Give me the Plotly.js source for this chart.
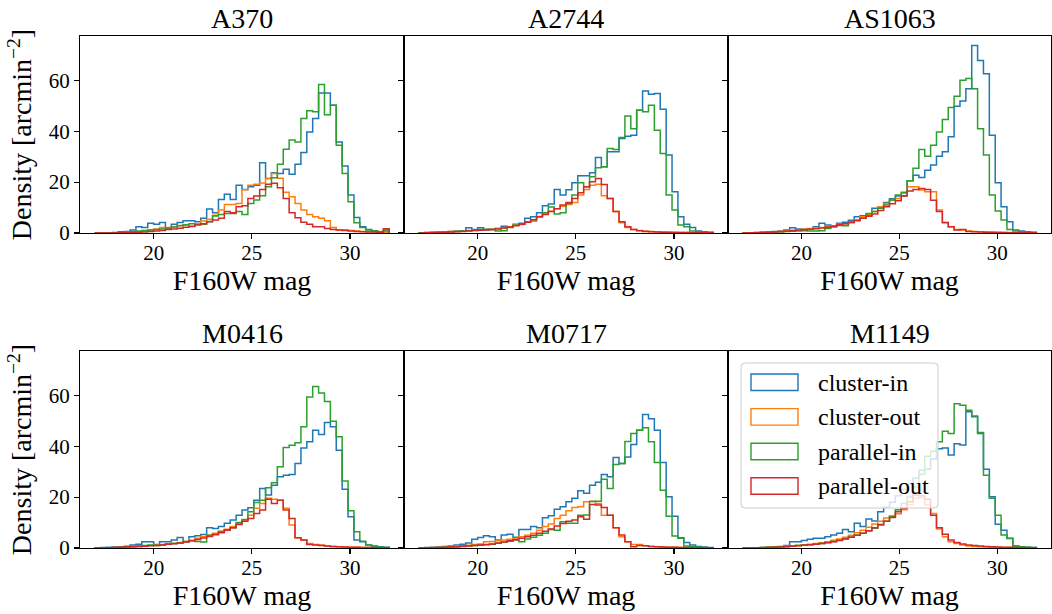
<!DOCTYPE html>
<html>
<head>
<meta charset="utf-8">
<script src="https://cdn.plot.ly/plotly-3.0.1.min.js"></script>
<style>
html,body{margin:0;padding:0;background:#ffffff;}
#chart{width:1052px;height:614px;}
</style>
</head>
<body>
<div id="chart"></div>
<script>
// ---------------- DATA ----------------
const binStart = 17;      // first bin edge (F160W mag)
const binWidth = 0.3;     // bin width (mag)
const panelTitles = ["A370", "A2744", "AS1063", "M0416", "M0717", "M1149"];
const seriesNames = ["cluster-in", "cluster-out", "parallel-in", "parallel-out"];
const xTickVals = [20, 25, 30];
const yTickVals = [0, 20, 40, 60];

// A370
const a370_clusterIn = [0,0,0.1,0.2,0.5,0.6,1.2,2.5,2.2,3.8, 3.4,4.1,2.1,3.4,4.1,4.8,4.8,4.4,5.8,9.4, 8.0,13.2,15.2,13.2,18.8,17.1,18.2,18.8,27.6,21.4, 23.7,23.4,25,23.1,27,31.6,39.7,45,55,55, 50.2,35.8,26.3,14.9,6.1,2.5,1.4,0.9,0.5,1.2];
const a370_clusterOut = [0,0,0,0,0.1,0.2,0.3,0.5,0.8,1.2, 1.6,2.2,2.2,2.5,2.9,3.1,2.7,3.4,4.7,5.4, 7,9,11.2,11.2,11.6,17,18.8,19.2,19.6,21.4, 23.4,21.5,16,14.2,11.6,9,7.3,6.4,5.8,4.8, 2.2,1.2,1.3,1.0,0.8,0.6,0.5,0.4,0.6,0.3];
const a370_parallelIn = [0,0,0,0.1,0.2,0.4,0.6,0.8,1.0,1.2, 1.4,1.6,2.0,2.4,2.8,3.2,3.6,3.4,3.4,4.5, 6.7,7.3,7.7,7.7,8.4,7.3,11.6,13,14.6,18.2, 21.7,27,32.9,36.5,35.8,45,48,47.6,58.3,46.5, 50.2,34.5,23.4,12.3,4,2.2,1.2,0.8,0.5,0.8];
const a370_parallelOut = [0,0,0,0,0.1,0.1,0.2,0.3,0.4,0.6, 0.8,1.0,1.4,1.6,1.9,2.3,2.6,3.1,3.6,4.4, 5.1,5.8,8.4,8.0,10.3,10.7,13.6,14.5,17.1,19.2, 19.5,17.8,13.6,8,6,4.2,3.4,2.5,2.5,1.8, 1.4,1.2,1.0,0.8,0.6,0.5,0.4,0.4,0.3,1.7];

// A2744
const a2744_clusterIn = [0.1,0.2,0.3,0.4,0.5,0.6,0.8,0.9,2.1,1.4, 2.1,1.4,1.4,1.8,2.7,2.5,3.1,3.8,5.8,6.4, 8,10.7,11.4,17.1,14.9,17, 19.7,22.5,22.5,23.7,29.7,26,31.9,31.9,37.1,38, 38.4,48.2,55.8,54.5,54.8,48.6,30.6,16.2,6.4,3.4, 2.2,0.8,0.5,0.3];
const a2744_clusterOut = [0.1,0.2,0.3,0.4,0.5,0.6,0.7,0.8,0.9,1.0, 1.2,1.3,1.5,1.8,2.0,2.5,3.5,3.3,4.4,4.6, 6.5,7.5,8.5,9.5,10.5,11.2, 12,14.9,17.1,18.8,19.2,14.6,13.6,8.4,4,2.2, 1.4,1.0,0.8,0.6,0.5,0.4,0.3,0.3,0.2,0.2, 0.1,0.1,0.1,0.1];
const a2744_parallelIn = [0.1,0.1,0.2,0.3,0.4,0.5,0.6,0.8,1.0,1.2, 1.4,1.5,1.4,0.8,0.9,2.2,3.0,3.5,4.4,5.2, 6.4,8.0,10.2,7.5,8.0,11.6, 14.9,19.7,18.2,22.1,25.6,26,33.2,32.8,37.5,46, 41,48.2,47.6,50.2,40.4,31.2,14.9,9,3.1,2.5, 0.8,0.5,0.3,0.2];
const a2744_parallelOut = [0,0.1,0.1,0.2,0.3,0.4,0.5,0.6,0.8,1.0, 1.1,1.2,1.4,1.6,2.0,2.4,2.8,3.4,4.2,5.2, 6.4,7.3,8.4,9.5,11,12, 13.6,15.8,18.2,20.1,21.4,19.1,13.6,8.4,4.4,2.5, 1.4,0.9,0.6,0.5,0.4,0.3,0.3,0.2,0.2,0.2, 0.1,0.1,0.1,0.1];

// AS1063
const as1063_clusterIn = [0.1,0.1,0.2,0.3,0.4,0.6,0.8,1.2,2.1,1.6, 1.5,1.6,2.5,3.8,3.1,2.5,3.8,4.2,5.0,6.4, 6.8,7.0,9.7,9.9,12,13.5, 14.5,14.6,20.5,22.7,21.8,24.7,26.7,30.2,31.9,37.8, 49.8,51.9,56.7,73.7,67.8,62.6,38.4,19.7,10.3,4.4, 1.2,0.8,0.5,0.3];
const as1063_clusterOut = [0.1,0.1,0.2,0.3,0.4,0.5,0.7,0.9,1.1,1.3, 1.5,1.8,2.0,2.2,2.5,2.8,3.4,3.6,4.4,5.1, 6.4,7.3,8.4,10.3,11.6,13, 13.6,15.6,18.2,18.2,16.9,16.2,16.2,9,4.2,2.5, 1.4,1.2,0.8,0.6,0.5,0.4,0.3,0.3,0.2,0.2, 0.1,0.1,0.1,0.1];
const as1063_parallelIn = [0,0.1,0.1,0.2,0.3,0.4,0.5,0.6,0.7,0.8, 0.9,0.8,0.8,0.9,1.8,2.5,2.9,2.8,4.0,5.0, 5.8,7.7,8.4,9.7,11,13, 14.9,16,20.5,25.4,32.8,30.2,34.5,39.7,44.6,49.3, 53.7,60,60.7,56.7,41,30.6,14.9,8.6,5.1,1.4, 0.8,0.5,0.3,0.2];
const as1063_parallelOut = [0,0.1,0.1,0.2,0.3,0.4,0.5,0.7,0.9,1.1, 1.3,1.5,1.7,2.0,2.3,2.7,3.2,3.6,4.2,4.8, 5.8,6.6,7.5,8.8,10.3,11.5, 12.7,14.5,16.5,17.1,17.5,17.1,12.9,8.4,4,2.5, 1.2,1.4,0.6,0.5,0.4,0.3,0.3,0.2,0.2,0.1, 0.1,0.1,0.1,0.1];

// M0416
const m0416_clusterIn = [0.1,0.2,0.3,0.4,0.5,0.7,1.2,1.5,2.5,2.5, 1.4,2.5,2.5,3.1,4.1,2.5,4.4,4.8,5.3,8.0, 7.7,8.4,9.7,11,12.9,14.9, 15.8,18.8,23.4,20.8,24.7,28,28.6,28.9,33.2,39.3, 41.7,46.3,44.6,49.3,47.6,38.4,23.1,12.3,3.1,2.5, 1.2,0.8,0.5,0.3];
const m0416_clusterOut = [0,0.1,0.1,0.2,0.3,0.4,0.5,0.6,0.8,1.0, 1.2,1.4,1.6,1.9,2.2,2.6,3.0,3.8,4.4,5.0, 5.8,6.6,7.4,8.4,9.6,11, 12.9,15.6,17.5,19.5,19.2,18.8,15.6,9,4,3.1, 1.8,1.4,1.2,0.8,0.6,0.5,0.4,0.3,0.3,0.2, 0.2,0.1,0.1,0.1];
const m0416_parallelIn = [0,0.1,0.1,0.2,0.3,0.4,0.6,0.8,1.0,1.2, 1.0,1.2,1.6,1.8,2.0,2.6,2.8,2.6,2.4,5.0, 5.4,6.5,7.2,8.0,10,11.2, 14.2,17.9,18.8,23.7,25.6,31.9,39.5,40.4,41.4,47.6, 59.3,63.5,60.9,57.6,49.8,43.7,26.3,14.6,6.4,2.7, 1.2,0.6,0.3,0.2];
const m0416_parallelOut = [0,0,0.1,0.2,0.3,0.4,0.5,0.6,0.7,0.9, 1.0,1.2,1.5,1.7,2.0,2.4,2.8,3.3,3.9,4.5, 5.2,6.0,7.0,8.0,9.2,10.5, 11.6,13.6,14.9,19.2,17.5,18.8,14.9,11.6,4,3.1, 1.4,1.2,1.0,0.8,0.6,0.5,0.4,0.3,0.3,0.2, 0.2,0.1,0.1,0.1];

// M0717
const m0717_clusterIn = [0.1,0.2,0.3,0.4,0.6,0.8,1.2,1.5,2.0,3.4, 4.1,4.8,4.4,3.1,5.1,5.4,4.2,7.3,7.3,8.4, 8.0,11.9,12.7,15.2,16.2,18.2, 19.5,22.5,21.5,24.7,25.8,28.9,28,35.6,33.2,35.8, 40.7,46.3,52.5,50.8,46.3,33.6,20.1,12.5,4,2.2, 1.2,0.6,0.4,0.2];
const m0717_clusterOut = [0.1,0.1,0.2,0.3,0.4,0.5,0.7,0.9,1.1,1.4, 1.6,2.5,2.6,2.8,3.1,3.4,3.8,4.4,5.0,5.8, 7.0,8.4,9.4,11.6,12.9,14.6, 15.9,16.2,18.2,18.4,17.5,12.9,12.9,8,4.4,2.5, 1.4,1.4,0.9,0.6,0.5,0.4,0.3,0.3,0.2,0.2, 0.1,0.1,0.1,0.1];
const m0717_parallelIn = [0,0.1,0.1,0.2,0.3,0.4,0.5,0.7,0.9,1.0, 1.1,1.3,1.5,1.9,2.3,2.7,3.1,2.5,3.5,4.2, 5.0,5.8,7.3,7.0,10.3,9.7, 9.7,12.9,13,18.3,18.4,27,23.4,32.8,33.2,41.8, 45,46.3,47.2,41.7,33.6,22.7,12.5,4.7,3.8,0.8, 0.5,0.3,0.2,0.1];
const m0717_parallelOut = [0,0.1,0.1,0.2,0.3,0.4,0.5,0.6,0.8,1.0, 1.2,1.4,1.6,2.0,2.4,2.8,3.2,3.8,4.4,5.0, 5.8,6.6,7.5,8.6,9.6,10.5, 11,12.3,11.3,17.1,16.9,15.9,12.9,8,5.1,2.5, 0.5,1.0,0.9,0.6,0.5,0.4,0.3,0.3,0.2,0.2, 0.1,0.1,0.1,0.1];

// M1149
const m1149_clusterIn = [0,0.1,0.1,0.2,0.3,0.4,0.6,1.0,2.5,2.5, 2.9,3.4,3.8,3.8,4.4,5.1,5.8,7.3,6.4,9.7, 8.4,11.4,10.6,14.2,16,18, 20.5,23,25,27.5,30.5,31,35,39,39.3,36.5, 41,40.5,53.5,51.6,45,30.9,20.1,9.3,7,3.7, 0.8,0.5,0.3,0.2];
const m1149_clusterOut = [0,0.1,0.1,0.2,0.3,0.4,0.5,0.7,0.9,1.1, 1.3,1.5,1.8,2.1,2.5,3.0,3.5,4.2,5.0,6.0, 7.0,8.2,9.4,10.5,11.8,12.5, 13.5,15,17,19.5,19.8,17,13.6,7.5,4.4,2.5, 1.8,1.2,0.8,0.6,0.5,0.4,0.3,0.3,0.2,0.2, 0.1,0.1,0.1,0.1];
const m1149_parallelIn = [0,0.1,0.1,0.2,0.3,0.4,0.5,0.6,0.8,1.0, 1.1,1.3,1.5,1.8,2.2,2.6,3.0,3.6,4.3,5.0, 5.8,6.8,7.8,9.0,10.5,12.5, 15,17.5,20,24,29,36,38,41.7,45.9,45, 56.7,56.1,54.1,51.9,45.4,28.6,19.5,12.9,5.1,3.8, 0.8,0.5,0.3,0.2];
const m1149_parallelOut = [0,0,0.1,0.1,0.2,0.3,0.4,0.5,0.7,0.9, 1.1,1.3,1.5,1.8,2.1,2.5,2.9,3.5,4.2,5.0, 5.8,6.8,8.0,9.2,10.5,12, 14.2,15.6,18.2,20.8,20.5,19.2,12.9,8,5.4,3.1, 2.2,1.6,1.2,1.0,0.8,0.6,0.5,0.4,0.3,0.3, 0.2,0.2,0.1,0.1];

const panelData = [
  [a370_clusterIn, a370_clusterOut, a370_parallelIn, a370_parallelOut],
  [a2744_clusterIn, a2744_clusterOut, a2744_parallelIn, a2744_parallelOut],
  [as1063_clusterIn, as1063_clusterOut, as1063_parallelIn, as1063_parallelOut],
  [m0416_clusterIn, m0416_clusterOut, m0416_parallelIn, m0416_parallelOut],
  [m0717_clusterIn, m0717_clusterOut, m0717_parallelIn, m0717_parallelOut],
  [m1149_clusterIn, m1149_clusterOut, m1149_parallelIn, m1149_parallelOut]
];

// ---------------- STYLE / LAYOUT ----------------
const W = 1052, H = 614;
const colors = ["#1f77b4", "#ff7f0e", "#2ca02c", "#d62728"];
const FONT = "'Liberation Serif', 'Times New Roman', serif";
const colPx = [[80, 404], [404, 728], [728, 1051]];
const rowPx = [[36, 233], [351, 548]];
const px2x = p => p / W;
const px2y = p => 1 - p / H;

function stepXY(vals) {
  const x = [binStart], y = [0];
  for (let k = 0; k < vals.length; k++) { x.push(binStart + k * binWidth); y.push(vals[k]); }
  x.push(binStart + vals.length * binWidth); y.push(0);
  return {x, y};
}

const traces = [];
const layout = {
  width: W, height: H,
  margin: {l: 0, r: 0, t: 0, b: 0},
  paper_bgcolor: "#ffffff", plot_bgcolor: "#ffffff",
  showlegend: false,
  font: {family: FONT, color: "#000000"},
  annotations: [], shapes: []
};

panelTitles.forEach((title, p) => {
  const row = Math.floor(p / 3), col = p % 3;
  const n = p + 1;
  const xa = n === 1 ? "x" : "x" + n, ya = n === 1 ? "y" : "y" + n;
  panelData[p].forEach((vals, s) => {
    const xy = stepXY(vals);
    traces.push({
      type: "scatter", mode: "lines", x: xy.x, y: xy.y,
      xaxis: xa, yaxis: ya, name: seriesNames[s],
      line: {color: colors[s], width: 1.5, shape: "hv"},
      hoverinfo: "skip"
    });
  });
  layout[n === 1 ? "xaxis" : "xaxis" + n] = {
    domain: [px2x(colPx[col][0]), px2x(colPx[col][1])],
    anchor: ya, range: [16.25, 32.75],
    tickmode: "array", tickvals: xTickVals,
    ticks: "outside", ticklen: 5, tickwidth: 1.1, tickcolor: "#000",
    ticklabelstandoff: -4,
    showline: true, mirror: true, linecolor: "#000", linewidth: 1.1,
    showgrid: false, zeroline: false,
    tickfont: {family: FONT, size: 21, color: "#000"},
    title: {text: "F160W mag", font: {family: FONT, size: 28, color: "#000"}, standoff: 3}
  };
  const yax = {
    domain: [px2y(rowPx[row][1]), px2y(rowPx[row][0])],
    anchor: xa, range: [0, 77.4],
    tickmode: "array", tickvals: yTickVals,
    ticks: "outside", ticklen: 5, tickwidth: 1.1, tickcolor: "#000",
    showline: true, mirror: true, linecolor: "#000", linewidth: 1.1,
    showgrid: false, zeroline: false,
    showticklabels: col === 0,
    tickfont: {family: FONT, size: 21, color: "#000"}
  };
  if (col === 0) {
    yax.title = {text: "Density [arcmin<sup>\u22122</sup>]", font: {family: FONT, size: 28, color: "#000"}, standoff: 8};
  }
  layout[n === 1 ? "yaxis" : "yaxis" + n] = yax;
  layout.annotations.push({
    xref: "paper", yref: "paper",
    x: px2x((colPx[col][0] + colPx[col][1]) / 2), y: px2y(rowPx[row][0] - 18),
    xanchor: "center", yanchor: "middle", showarrow: false,
    text: title, font: {family: FONT, size: 28, color: "#000"}
  });
});

// Legend (drawn in the M1149 panel, upper left)
function roundRectPath(x0, y0, x1, y1, r) {
  const X = px2x, Y = px2y;
  return "M" + X(x0 + r) + "," + Y(y0) +
    " L" + X(x1 - r) + "," + Y(y0) + " Q" + X(x1) + "," + Y(y0) + " " + X(x1) + "," + Y(y0 + r) +
    " L" + X(x1) + "," + Y(y1 - r) + " Q" + X(x1) + "," + Y(y1) + " " + X(x1 - r) + "," + Y(y1) +
    " L" + X(x0 + r) + "," + Y(y1) + " Q" + X(x0) + "," + Y(y1) + " " + X(x0) + "," + Y(y1 - r) +
    " L" + X(x0) + "," + Y(y0 + r) + " Q" + X(x0) + "," + Y(y0) + " " + X(x0 + r) + "," + Y(y0) + " Z";
}
layout.shapes.push({
  type: "path", xref: "paper", yref: "paper", layer: "above",
  path: roundRectPath(741, 363, 938, 508, 4),
  fillcolor: "rgba(255,255,255,0.8)", line: {color: "#cccccc", width: 1}
});
seriesNames.forEach((name, s) => {
  const top = 374 + s * 34.6;
  layout.shapes.push({
    type: "rect", xref: "paper", yref: "paper", layer: "above",
    x0: px2x(751), x1: px2x(798), y0: px2y(top), y1: px2y(top + 16.5),
    fillcolor: "rgba(0,0,0,0)", line: {color: colors[s], width: 1.4}
  });
  layout.annotations.push({
    xref: "paper", yref: "paper", x: px2x(816), y: px2y(top + 8.5),
    xanchor: "left", yanchor: "middle", showarrow: false,
    text: name, font: {family: FONT, size: 24, color: "#000"}
  });
});

Plotly.newPlot("chart", traces, layout, {staticPlot: true, displayModeBar: false});
</script>
</body>
</html>
